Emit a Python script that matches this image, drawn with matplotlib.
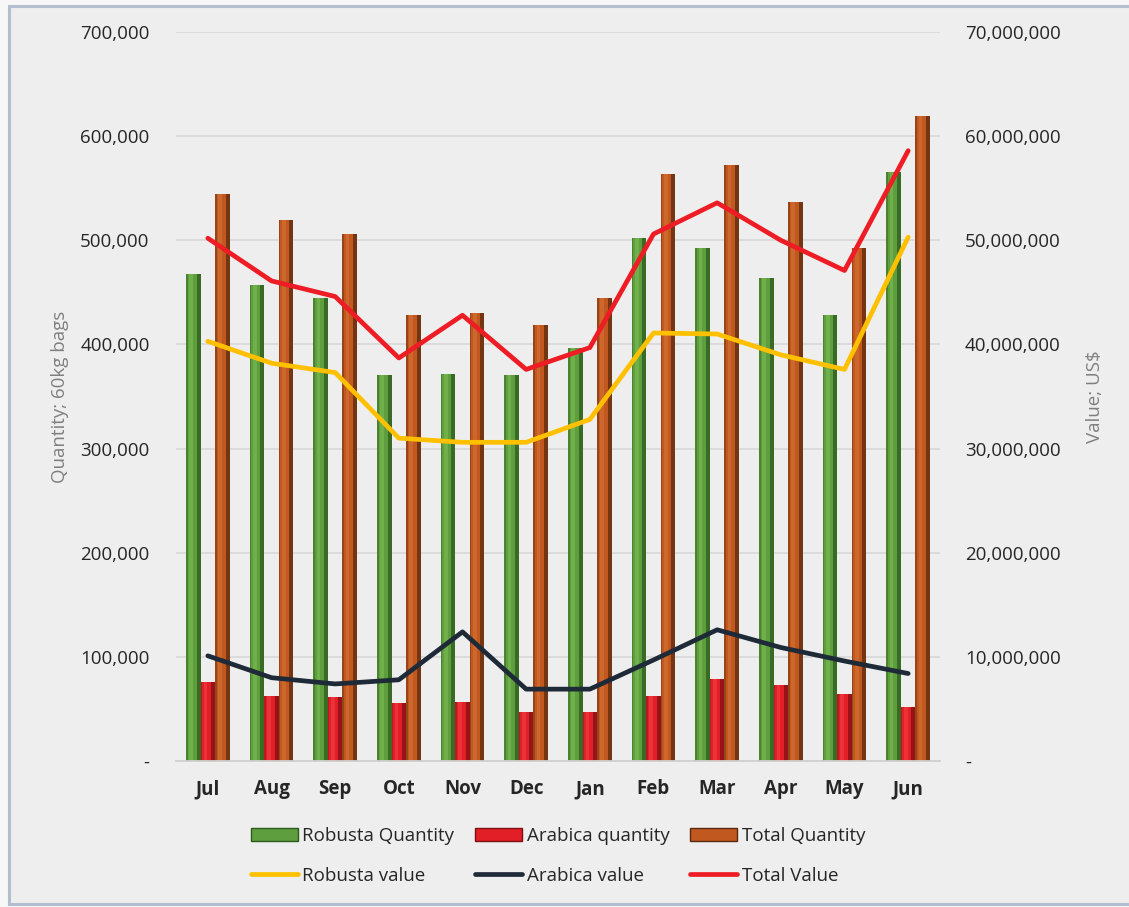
import numpy as np
import matplotlib.pyplot as plt
from matplotlib.patches import Rectangle
from matplotlib.lines import Line2D
from matplotlib.ticker import FuncFormatter

plt.rcParams['font.family'] = ['Open Sans', 'DejaVu Sans']

months = ["Jul", "Aug", "Sep", "Oct", "Nov", "Dec",
          "Jan", "Feb", "Mar", "Apr", "May", "Jun"]

# quantities, 60kg bags
robusta_qty = [468000, 457000, 445000, 371000, 372000, 371000,
               397000, 502000, 493000, 464000, 428000, 566000]
arabica_qty = [76000, 62000, 61000, 56000, 57000, 47000,
               47000, 62000, 79000, 73000, 64000, 52000]
total_qty = [544000, 519000, 506000, 428000, 430000, 419000,
             445000, 564000, 572000, 537000, 493000, 619000]

# values, US$
robusta_val = [40.3e6, 38.2e6, 37.3e6, 31.0e6, 30.6e6, 30.6e6,
               32.8e6, 41.1e6, 41.0e6, 39.0e6, 37.6e6, 50.3e6]
arabica_val = [10.1e6, 8.0e6, 7.4e6, 7.8e6, 12.4e6, 6.9e6,
               6.9e6, 9.7e6, 12.6e6, 10.9e6, 9.6e6, 8.4e6]
total_val = [50.2e6, 46.1e6, 44.6e6, 38.7e6, 42.8e6, 37.6e6,
             39.7e6, 50.6e6, 53.6e6, 50.0e6, 47.1e6, 58.6e6]

BG = "#eeeeee"
TXT = "#262626"
FS = 13.5

fig = plt.figure(figsize=(11.29, 9.07), dpi=100, facecolor="#f7f7f7")
fig.patches.append(Rectangle((0.008, 0.003), 1.1, 0.99, transform=fig.transFigure,
                             facecolor=BG, edgecolor="#b3bfd1", linewidth=2.2,
                             zorder=-1))

ax = fig.add_axes([176 / 1129, 1 - 761 / 907, (940 - 176) / 1129, (761 - 32) / 907])
ax.set_facecolor(BG)
ax2 = ax.twinx()

x = np.arange(len(months))
w = 0.228

# bars with a simple bevel: base colour, light centre, dark right edge
bar_styles = [
    (robusta_qty, -w, "#5f9e3e", "#7fbf55", "#2b5a1c"),
    (arabica_qty, 0.0, "#e21e26", "#f0444a", "#7d1013"),
    (total_qty, w, "#c0581f", "#d9773a", "#5b2a0e"),
]
for vals, off, base, light, dark in bar_styles:
    left = x + off - w / 2
    ax.bar(left, vals, width=w, align="edge", color=base, zorder=2)
    ax.bar(left + w * 0.22, vals, width=w * 0.25, align="edge", color=light,
           alpha=0.55, zorder=2.1)
    ax.bar(left, vals, width=w * 0.1, align="edge", color=dark, alpha=0.4, zorder=2.1)
    ax.bar(left + w * 0.72, vals, width=w * 0.28, align="edge", color=dark,
           alpha=0.75, zorder=2.1)

ax.set_ylim(0, 700000)
ax.set_xlim(-0.5, len(months) - 0.5)
ax.set_yticks(np.arange(0, 700001, 100000))
ax.yaxis.grid(True, color="#d9d9d9", linewidth=1.3, zorder=0)
ax.set_axisbelow(True)

fmt = FuncFormatter(lambda v, p: "-" if v == 0 else f"{v:,.0f}")
ax.yaxis.set_major_formatter(fmt)
ax2.yaxis.set_major_formatter(fmt)

lw = 3.4
ax2.plot(x, robusta_val, color="#ffc000", linewidth=lw, solid_capstyle="round", zorder=3)
ax2.plot(x, arabica_val, color="#1f2a38", linewidth=lw, solid_capstyle="round", zorder=3)
ax2.plot(x, total_val, color="#ee1c24", linewidth=lw, solid_capstyle="round", zorder=3)
ax2.set_ylim(0, 70000000)
ax2.set_yticks(np.arange(0, 70000001, 10000000))

ax.set_xticks(x)
ax.set_xticklabels(months, fontweight="bold", fontsize=FS, color=TXT)
ax.tick_params(axis="x", length=0, pad=13)
ax.tick_params(axis="y", length=0, pad=19, labelsize=FS, labelcolor=TXT)
ax2.tick_params(axis="y", length=0, pad=18, labelsize=FS, labelcolor=TXT)

for a in (ax, ax2):
    for side in ("top", "left", "right"):
        a.spines[side].set_visible(False)
ax.spines["bottom"].set_color("#d0d0d0")
ax.spines["bottom"].set_linewidth(1.3)
ax2.spines["bottom"].set_visible(False)

ax.set_ylabel("Quantity; 60kg bags", color="#7f7f7f", fontsize=FS, labelpad=8)
ax2.set_ylabel("Value; US$", color="#7f7f7f", fontsize=FS, labelpad=18)

handles = [
    Rectangle((0, 0), 1, 1, facecolor="#5f9e3e", edgecolor="#2b5a1c"),
    Line2D([], [], color="#ffc000", linewidth=lw, solid_capstyle="round"),
    Rectangle((0, 0), 1, 1, facecolor="#e21e26", edgecolor="#7d1013"),
    Line2D([], [], color="#1f2a38", linewidth=lw, solid_capstyle="round"),
    Rectangle((0, 0), 1, 1, facecolor="#c0581f", edgecolor="#5b2a0e"),
    Line2D([], [], color="#ee1c24", linewidth=lw, solid_capstyle="round"),
]
labels = ["Robusta Quantity", "Robusta value", "Arabica quantity",
          "Arabica value", "Total Quantity", "Total Value"]
fig.legend(handles, labels, ncol=3, loc="center", bbox_to_anchor=(558 / 1129, 1 - 856 / 907),
           frameon=False, fontsize=FS, labelcolor=TXT, handlelength=2.5,
           handleheight=0.7, handletextpad=0.25, columnspacing=1.1, labelspacing=1.15)

fig.savefig("out.png", dpi=100, facecolor=fig.get_facecolor())
